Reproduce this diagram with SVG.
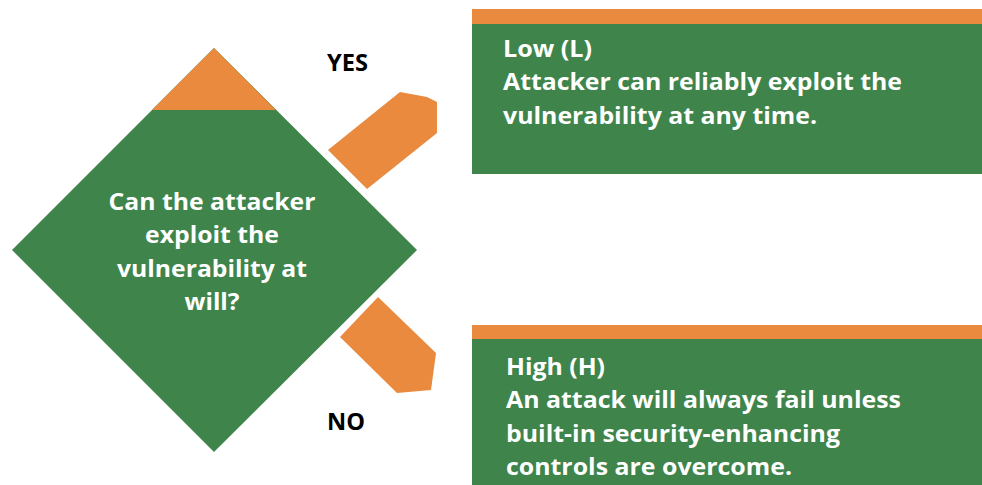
<svg xmlns="http://www.w3.org/2000/svg" width="982" height="485" viewBox="0 0 982 485">
<style>
.g{fill:#3E844B}
.o{fill:#E98A3E}
.t{font-family:"Open Sans","Liberation Sans",sans-serif;font-weight:bold;font-size:23.5px;fill:#fff}
.c{text-anchor:middle}
.k{font-family:"Open Sans","Liberation Sans",sans-serif;font-weight:bold;font-size:23px;fill:#000}
</style>
<rect width="982" height="485" fill="#fff"/>
<g id="decision">
<polygon class="g" points="214,48 417,250 214,452 12,250"/>
<polygon class="o" points="214,48 276,110 152,110"/>
<text class="t c" x="212" y="210" textLength="207" lengthAdjust="spacingAndGlyphs">Can the attacker</text>
<text class="t c" x="212" y="243" textLength="134" lengthAdjust="spacingAndGlyphs">exploit the</text>
<text class="t c" x="212" y="277" textLength="190" lengthAdjust="spacingAndGlyphs">vulnerability at</text>
<text class="t c" x="212" y="310" textLength="55" lengthAdjust="spacingAndGlyphs">will?</text>
</g>
<g id="connectors">
<polygon class="o" points="328,150 400,92 427,97 437,102 437,133 367,189"/>
<polygon class="o" points="340,337 378,297 436,353 431,390 397,393"/>
<text class="k" x="327" y="71" textLength="41" lengthAdjust="spacingAndGlyphs">YES</text>
<text class="k" x="327" y="430" textLength="38" lengthAdjust="spacingAndGlyphs">NO</text>
</g>
<g id="low">
<rect class="o" x="472" y="9" width="510" height="15"/>
<rect class="g" x="472" y="24" width="510" height="150"/>
<text class="t" x="503" y="57" textLength="89" lengthAdjust="spacingAndGlyphs">Low (L)</text>
<text class="t" x="503" y="90" textLength="399" lengthAdjust="spacingAndGlyphs">Attacker can reliably exploit the</text>
<text class="t" x="503" y="124" textLength="314" lengthAdjust="spacingAndGlyphs">vulnerability at any time.</text>
</g>
<g id="high">
<rect class="o" x="472" y="325" width="510" height="14"/>
<rect class="g" x="472" y="339" width="510" height="146"/>
<text class="t" x="506" y="375" textLength="99" lengthAdjust="spacingAndGlyphs">High (H)</text>
<text class="t" x="506" y="408" textLength="395" lengthAdjust="spacingAndGlyphs">An attack will always fail unless</text>
<text class="t" x="506" y="442" textLength="334" lengthAdjust="spacingAndGlyphs">built-in security-enhancing</text>
<text class="t" x="506" y="475" textLength="286" lengthAdjust="spacingAndGlyphs">controls are overcome.</text>
</g>
</svg>
